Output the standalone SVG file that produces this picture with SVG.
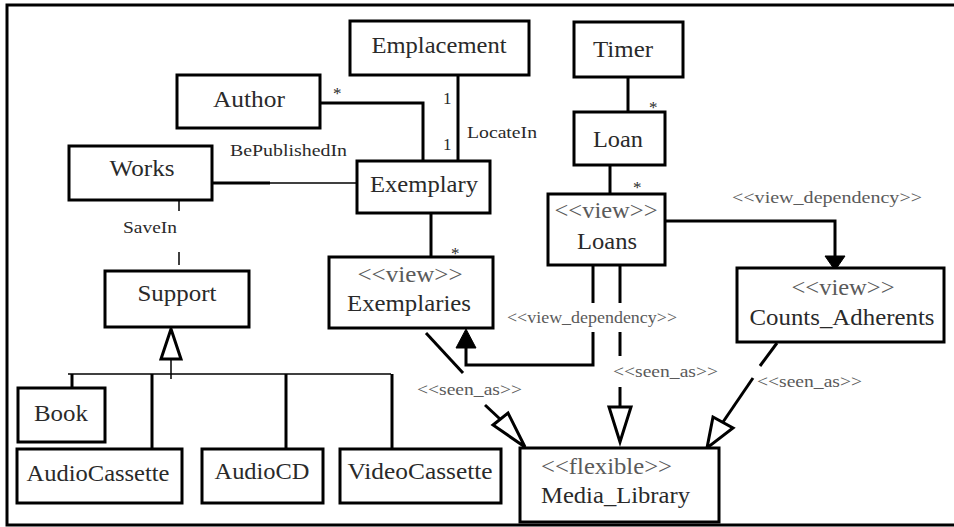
<svg xmlns="http://www.w3.org/2000/svg" width="954" height="527" viewBox="0 0 954 527">
<style>
.box{fill:#fff;stroke:#000;stroke-width:3}
text{font-family:'Liberation Serif','DejaVu Serif',serif}
.t{font-size:24px;fill:#2a2a2a;text-anchor:middle}
.st{font-size:24px;fill:#5a5a5a;text-anchor:middle}
.lb{font-size:17px;fill:#2a2a2a}
.gl{font-size:17px;fill:#5a5a5a}
.ln{fill:none;stroke:#000;stroke-width:3}
.thin{fill:none;stroke:#000;stroke-width:1.5}
.hollow{fill:#fff;stroke:#000;stroke-width:3;stroke-linejoin:miter}
.filled{fill:#000;stroke:#000;stroke-width:1}
</style>
<rect x="7" y="5" width="960" height="520" fill="#fff" stroke="#000" stroke-width="3"/>

<g id="connectors">
  <polyline class="ln" points="320,103 423,103 423,160"/>
  <text class="lb" x="333" y="99">*</text>
  <line class="ln" x1="458" y1="75" x2="458" y2="160"/>
  <text class="lb" x="443" y="104">1</text>
  <text class="lb" x="443" y="150">1</text>
  <text class="lb" x="467" y="138" textLength="70" lengthAdjust="spacingAndGlyphs">LocateIn</text>
  <line class="ln" x1="212" y1="183" x2="270" y2="183"/>
  <line class="thin" x1="270" y1="183" x2="357" y2="183"/>
  <text class="lb" x="230" y="156" textLength="117" lengthAdjust="spacingAndGlyphs">BePublishedIn</text>
  <line class="thin" x1="179" y1="200" x2="179" y2="211"/>
  <line class="thin" x1="179" y1="252" x2="179" y2="265"/>
  <text class="lb" x="123" y="233" textLength="54" lengthAdjust="spacingAndGlyphs">SaveIn</text>
  <line class="thin" x1="171" y1="358" x2="171" y2="379"/>
  <polygon class="hollow" points="171,329 181,359 161,359"/>
  <line class="thin" x1="68" y1="374" x2="391" y2="374"/>
  <line class="ln" x1="72" y1="374" x2="72" y2="388"/>
  <line class="ln" x1="152" y1="374" x2="152" y2="449"/>
  <line class="ln" x1="286" y1="374" x2="286" y2="449"/>
  <line class="ln" x1="392" y1="374" x2="392" y2="449"/>
  <line class="ln" x1="431" y1="213" x2="431" y2="257"/>
  <text class="lb" x="451" y="259">*</text>
  <line class="ln" x1="628" y1="77" x2="628" y2="112"/>
  <text class="lb" x="649" y="113">*</text>
  <line class="ln" x1="610" y1="165" x2="610" y2="194"/>
  <text class="lb" x="633" y="193">*</text>
  <polyline class="ln" points="665,221 835,221 835,258"/>
  <polygon class="filled" points="825,256 845,256 836,269 834,269"/>
  <text class="gl" x="732" y="203" textLength="190" lengthAdjust="spacingAndGlyphs">&lt;&lt;view_dependency&gt;&gt;</text>
  <line class="ln" x1="593" y1="265" x2="593" y2="303"/>
  <polyline class="ln" points="593,332 593,365 466,365 466,346"/>
  <polygon class="filled" points="466,329 476,348 456,348"/>
  <text class="gl" x="507" y="323" textLength="170" lengthAdjust="spacingAndGlyphs">&lt;&lt;view_dependency&gt;&gt;</text>
  <line class="ln" x1="620" y1="265" x2="620" y2="303"/>
  <line class="ln" x1="620" y1="332" x2="620" y2="356"/>
  <line class="ln" x1="620" y1="387" x2="620" y2="407"/>
  <polygon class="hollow" points="609,407 631,407 620,442"/>
  <text class="gl" x="613" y="377" textLength="105" lengthAdjust="spacingAndGlyphs">&lt;&lt;seen_as&gt;&gt;</text>
  <line class="ln" x1="426" y1="333" x2="463" y2="373"/>
  <line class="ln" x1="485" y1="405" x2="500" y2="419"/>
  <polygon class="hollow" points="493,425 508,413 525,447"/>
  <text class="gl" x="417" y="395" textLength="105" lengthAdjust="spacingAndGlyphs">&lt;&lt;seen_as&gt;&gt;</text>
  <line class="ln" x1="777" y1="343" x2="760" y2="366"/>
  <line class="ln" x1="753" y1="378" x2="723" y2="422"/>
  <polygon class="hollow" points="713,417 733,428 707,448"/>
  <text class="gl" x="757" y="387" textLength="105" lengthAdjust="spacingAndGlyphs">&lt;&lt;seen_as&gt;&gt;</text>
</g>

<g id="Emplacement"><rect class="box" x="350" y="21" width="179" height="54"/><text class="t" x="439" y="53" textLength="135" lengthAdjust="spacingAndGlyphs">Emplacement</text></g>
<g id="Timer"><rect class="box" x="574" y="22" width="109" height="55"/><text class="t" x="623" y="57" textLength="60" lengthAdjust="spacingAndGlyphs">Timer</text></g>
<g id="Author"><rect class="box" x="177" y="75" width="143" height="53"/><text class="t" x="249" y="107" textLength="72" lengthAdjust="spacingAndGlyphs">Author</text></g>
<g id="Loan"><rect class="box" x="574" y="112" width="91" height="53"/><text class="t" x="618" y="147" textLength="50" lengthAdjust="spacingAndGlyphs">Loan</text></g>
<g id="Works"><rect class="box" x="69" y="146" width="143" height="54"/><text class="t" x="142" y="176" textLength="65" lengthAdjust="spacingAndGlyphs">Works</text></g>
<g id="Exemplary"><rect class="box" x="357" y="161" width="133" height="52"/><text class="t" x="424" y="192" textLength="108" lengthAdjust="spacingAndGlyphs">Exemplary</text></g>
<g id="Loans"><rect class="box" x="548" y="194" width="117" height="71"/><text class="st" x="606" y="218" textLength="103" lengthAdjust="spacingAndGlyphs">&lt;&lt;view&gt;&gt;</text><text class="t" x="607" y="249" textLength="60" lengthAdjust="spacingAndGlyphs">Loans</text></g>
<g id="Exemplaries"><rect class="box" x="329" y="257" width="164" height="71"/><text class="st" x="410" y="282" textLength="105" lengthAdjust="spacingAndGlyphs">&lt;&lt;view&gt;&gt;</text><text class="t" x="409" y="311" textLength="124" lengthAdjust="spacingAndGlyphs">Exemplaries</text></g>
<g id="Counts_Adherents"><rect class="box" x="737" y="268" width="207" height="74"/><text class="st" x="843" y="295" textLength="103" lengthAdjust="spacingAndGlyphs">&lt;&lt;view&gt;&gt;</text><text class="t" x="842" y="325" textLength="185" lengthAdjust="spacingAndGlyphs">Counts_Adherents</text></g>
<g id="Support"><rect class="box" x="105" y="271" width="144" height="56"/><text class="t" x="177" y="301" textLength="79" lengthAdjust="spacingAndGlyphs">Support</text></g>
<g id="Book"><rect class="box" x="18" y="388" width="87" height="54"/><text class="t" x="61" y="421" textLength="54" lengthAdjust="spacingAndGlyphs">Book</text></g>
<g id="AudioCassette"><rect class="box" x="17" y="449" width="165" height="54"/><text class="t" x="98" y="481" textLength="143" lengthAdjust="spacingAndGlyphs">AudioCassette</text></g>
<g id="AudioCD"><rect class="box" x="202" y="449" width="121" height="54"/><text class="t" x="262" y="479" textLength="95" lengthAdjust="spacingAndGlyphs">AudioCD</text></g>
<g id="VideoCassette"><rect class="box" x="340" y="449" width="161" height="54"/><text class="t" x="420" y="479" textLength="145" lengthAdjust="spacingAndGlyphs">VideoCassette</text></g>
<g id="Media_Library"><rect class="box" x="520" y="448" width="199" height="74"/><text class="st" x="541" y="474" style="text-anchor:start" textLength="131" lengthAdjust="spacingAndGlyphs">&lt;&lt;flexible&gt;&gt;</text><text class="t" x="541" y="503" style="text-anchor:start" textLength="149" lengthAdjust="spacingAndGlyphs">Media_Library</text></g>
</svg>
